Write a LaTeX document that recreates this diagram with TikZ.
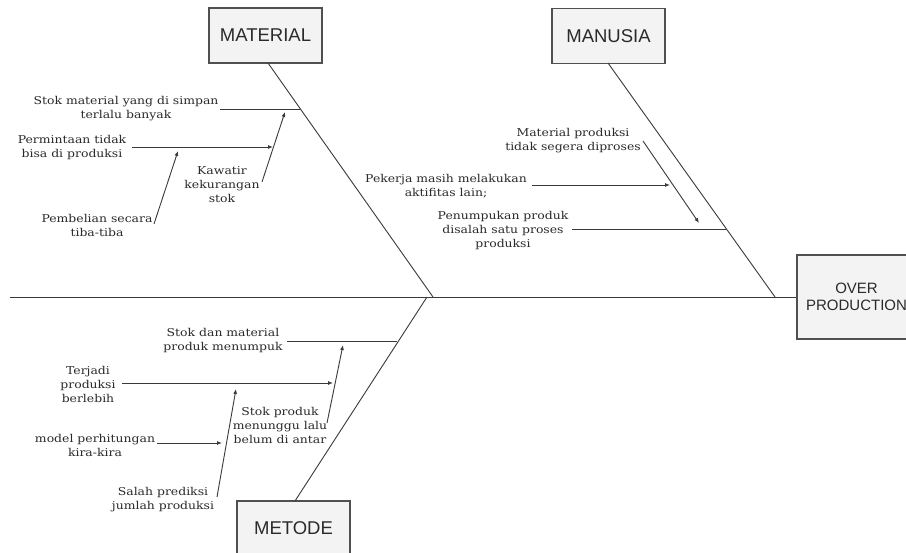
\documentclass[tikz,border=0pt]{standalone}
\usepackage{fontspec}
\setmainfont{DejaVu Serif}[FakeStretch=1.15]
\newfontfamily\boxfont{Liberation Sans}
\usetikzlibrary{arrows.meta}
\definecolor{linec}{HTML}{3A3A3A}
\definecolor{boxfill}{HTML}{F3F3F3}
\definecolor{boxline}{HTML}{505050}
\definecolor{txt}{HTML}{2A2A2A}
\tikzset{
  catbox/.style={draw=boxline, fill=boxfill, line width=1.1pt, minimum width=113pt, minimum height=55pt, inner sep=0pt, text=txt, font=\boxfont\fontsize{18.5}{20}\selectfont},
  effbox/.style={draw=boxline, fill=boxfill, line width=1.1pt, minimum width=119pt, minimum height=84pt, inner sep=0pt, align=center, text=txt, font=\boxfont\fontsize{15}{17}\selectfont},
  cause/.style={align=center, inner sep=0pt, text=txt, font=\fontsize{10.8}{14}\selectfont},
  bone/.style={draw=linec, line width=0.9pt},
  subbone/.style={draw=linec, line width=0.9pt, -{Latex[length=5pt,width=4pt]}},
  plain/.style={draw=linec, line width=0.9pt}
}
\begin{document}
\begin{tikzpicture}[x=1pt,y=-1pt]
\useasboundingbox[fill=white] (0,0) rectangle (906,553);
% boxes
\node[catbox] (material) at (265.5,35.5) {MATERIAL};
\node[catbox] (manusia) at (608.5,36) {MANUSIA};
\node[catbox] (metode) at (293.5,528.5) {METODE};
\node[effbox] (effect) at (856.5,297) {OVER\\PRODUCTION};
% spine and main bones
\coordinate (tail) at (10,297);
\coordinate (matend) at (433,297);
\coordinate (manend) at (775,297);
\coordinate (metend) at (427,297);
\draw[bone] (tail) -- (effect.west);
\draw[bone] (268,63) coordinate (matstart) -- (matend);
\draw[bone] (608,63) coordinate (manstart) -- (manend);
\draw[bone] (295,501) coordinate (metstart) -- (metend);
% MATERIAL causes
\node[cause] (m1) at (126,109) {Stok material yang di simpan\\terlalu banyak};
\node[cause] (m2) at (72,148) {Permintaan tidak\\bisa di produksi};
\node[cause] (m3) at (97,225) {Pembelian secara\\tiba-tiba};
\node[cause] (m4) at (222,185) {Kawatir\\kekurangan\\stok};
\coordinate (m1a) at (220,109); \coordinate (m1b) at (300,109);
\coordinate (m2a) at (132,147); \coordinate (m2b) at (273,147);
\coordinate (m3a) at (154,224); \coordinate (m3b) at (178,151);
\coordinate (m4a) at (262,182); \coordinate (m4b) at (285,112);
\draw[plain] (m1a) -- (m1b);
\draw[subbone] (m2a) -- (m2b);
\draw[subbone] (m3a) -- (m3b);
\draw[subbone] (m4a) -- (m4b);
% MANUSIA causes
\node[cause] (u1) at (573,141) {Material produksi\\tidak segera diproses};
\node[cause] (u2) at (446,186) {Pekerja masih melakukan\\aktifitas lain;};
\node[cause] (u3) at (503,231) {Penumpukan produk\\disalah satu proses\\produksi};
\coordinate (u1a) at (643,141); \coordinate (u1b) at (699,223);
\coordinate (u2a) at (532,185); \coordinate (u2b) at (670,185);
\coordinate (u3a) at (572,229); \coordinate (u3b) at (726,229);
\draw[subbone] (u1a) -- (u1b);
\draw[subbone] (u2a) -- (u2b);
\draw[plain] (u3a) -- (u3b);
% METODE causes
\node[cause] (t1) at (223,341) {Stok dan material\\produk menumpuk};
\node[cause] (t2) at (280,425) {Stok produk\\menunggu lalu\\belum di antar};
\node[cause] (t3) at (88,384) {Terjadi\\produksi\\berlebih};
\node[cause] (t4) at (95,445) {model perhitungan\\kira-kira};
\node[cause] (t5) at (163,500) {Salah prediksi\\jumlah produksi};
\coordinate (t1a) at (287,341); \coordinate (t1b) at (397,341);
\coordinate (t2a) at (327,423); \coordinate (t2b) at (343,345);
\coordinate (t3a) at (122,383); \coordinate (t3b) at (333,383);
\coordinate (t4a) at (157,443); \coordinate (t4b) at (222,443);
\coordinate (t5a) at (217,497); \coordinate (t5b) at (236,389);
\draw[plain] (t1a) -- (t1b);
\draw[subbone] (t2a) -- (t2b);
\draw[subbone] (t3a) -- (t3b);
\draw[subbone] (t4a) -- (t4b);
\draw[subbone] (t5a) -- (t5b);
\end{tikzpicture}
\end{document}
